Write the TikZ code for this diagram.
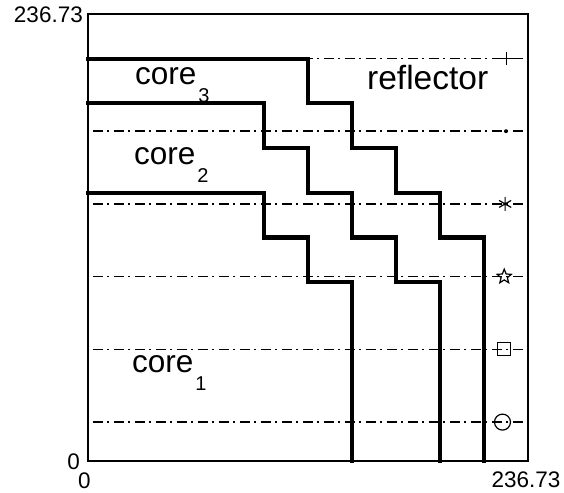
\documentclass[tikz,border=0pt]{standalone}
\usepackage{fontspec}
\setmainfont{Liberation Sans}
\usetikzlibrary{plotmarks,shapes.geometric}
\newcommand{\coresub}[1]{core\kern2pt\raisebox{-18pt}{\fontsize{20}{20}\selectfont #1}}
\tikzset{
  frame/.style={line width=1.4pt},
  boundary/.style={line width=4.2pt, line join=miter, line cap=rect},
  dashdotline/.style={line width=1.5pt, dash pattern=on 10pt off 4.5pt on 2pt off 4.5pt},
  ticklabel/.style={inner sep=0pt, font=\fontsize{22.5}{22.5}\selectfont},
  regionlabel/.style={inner sep=0pt, anchor=base west, font=\fontsize{31.5}{31.5}\selectfont},
  markline/.style={line width=1.2pt},
  marknode/.style={draw, line width=1.2pt, inner sep=0pt, fill=none}
}
\begin{document}
\begin{tikzpicture}[x=44pt,y=44.7pt]
\useasboundingbox[fill=white] (-88pt,-31pt) rectangle (476pt,461pt);

% dash-dot lines
\foreach \k/\yy in {0/0.87,1/2.497,2/4.124,3/5.751,4/7.378,5/9.005}{
  \coordinate (dl\k) at (0.11,\yy);
  \coordinate (dr\k) at (10,\yy);
  \draw[dashdotline] (dl\k) -- (dr\k);
}

% frame
\coordinate (o) at (0,0);
\coordinate (tr) at (10,10);
\draw[frame] (o) rectangle (tr);

% boundaries
\draw[boundary] (0,6) -- (4,6) -- (4,5) -- (5,5) -- (5,4) -- (6,4) -- (6,0);
\draw[boundary] (0,8) -- (4,8) -- (4,7) -- (5,7) -- (5,6) -- (6,6) -- (6,5) -- (7,5) -- (7,4) -- (8,4) -- (8,0);
\draw[boundary] (0,9) -- (5,9) -- (5,8) -- (6,8) -- (6,7) -- (7,7) -- (7,6) -- (8,6) -- (8,5) -- (9,5) -- (9,0);

% markers
\draw[markline] plot[mark=+, mark size=6.5pt] coordinates {(9.52,9.005)};
\fill (9.5,7.378) circle (2pt);
\draw[markline] plot[mark=asterisk, mark size=7pt] coordinates {(9.48,5.751)};
\node[marknode, star, star points=5, star point ratio=2.3, minimum size=15pt] (mstar) at (9.46,4.124) {};
\node[marknode, rectangle, minimum width=13pt, minimum height=13pt] (msquare) at (9.46,2.497) {};
\node[marknode, circle, minimum size=16pt] (mcircle) at (9.42,0.87) {};

% labels
\node[regionlabel] (c3) at (47pt,376pt) {\coresub{3}};
\node[regionlabel] (c2) at (46pt,296pt) {\coresub{2}};
\node[regionlabel] (c1) at (44pt,88pt) {\coresub{1}};
\node[regionlabel, font=\fontsize{33.5}{33.5}\selectfont] (refl) at (279pt,371pt) {reflector};

% tick labels
\node[ticklabel, anchor=base east] (ytop) at (-5pt,438pt) {236.73};
\node[ticklabel, anchor=base east] (ybot) at (-8pt,-8pt) {0};
\node[ticklabel, anchor=base] (xbot) at (-3.5pt,-27pt) {0};
\node[ticklabel, anchor=base] (xtop) at (438pt,-26.5pt) {236.73};
\end{tikzpicture}
\end{document}
